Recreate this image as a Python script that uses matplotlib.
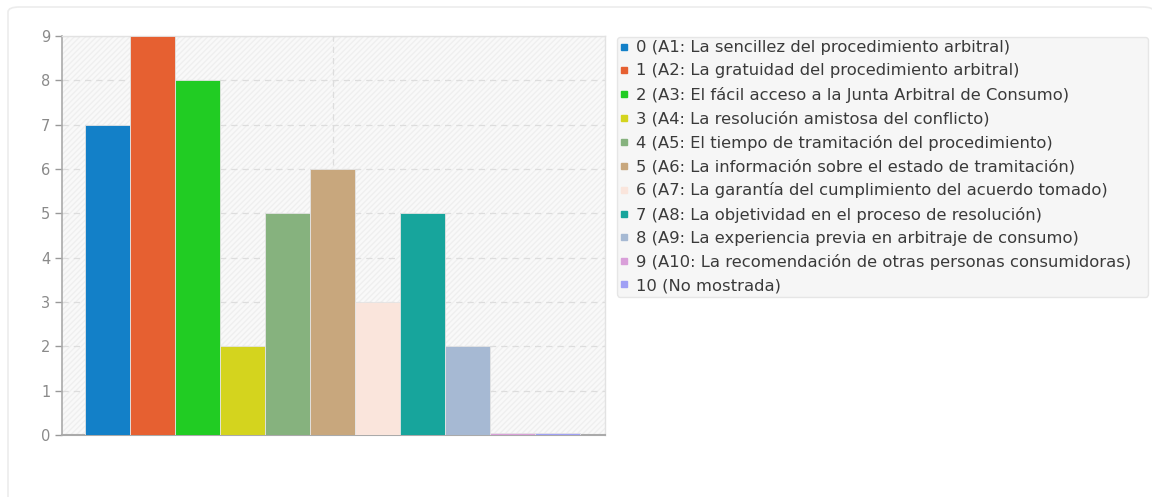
import numpy as np
import matplotlib
matplotlib.use("Agg")
import matplotlib.pyplot as plt
from matplotlib.patches import FancyBboxPatch, Rectangle
from matplotlib.lines import Line2D

# ── Data ──────────────────────────────────────────────────────────────────────
labels = [
    "0 (A1: La sencillez del procedimiento arbitral)",
    "1 (A2: La gratuidad del procedimiento arbitral)",
    "2 (A3: El fácil acceso a la Junta Arbitral de Consumo)",
    "3 (A4: La resolución amistosa del conflicto)",
    "4 (A5: El tiempo de tramitación del procedimiento)",
    "5 (A6: La información sobre el estado de tramitación)",
    "6 (A7: La garantía del cumplimiento del acuerdo tomado)",
    "7 (A8: La objetividad en el proceso de resolución)",
    "8 (A9: La experiencia previa en arbitraje de consumo)",
    "9 (A10: La recomendación de otras personas consumidoras)",
    "10 (No mostrada)",
]
values = [7, 9, 8, 2, 5, 6, 3, 5, 2, 0, 0]
colors = ["#1380C8", "#E66031", "#21CC23", "#D4D41E", "#86B27E", "#C8A77D",
          "#FAE5DC", "#17A59C", "#A6B9D3", "#D99FD9", "#A0A0F5"]
yticks = list(range(0, 10))

W, H = 1152, 497
fig = plt.figure(figsize=(W / 100, H / 100), dpi=100)
fig.patch.set_facecolor("white")

# outer card
card = FancyBboxPatch((8 / W, -0.05), (W - 6) / W, (H - 7) / H + 0.05,
                      boxstyle="round,pad=0,rounding_size=0.01",
                      transform=fig.transFigure, facecolor="white",
                      edgecolor="#ececec", linewidth=1.2, zorder=-5)
fig.patches.append(card)

ax = fig.add_axes([62 / W, 62 / H, 543 / W, 399 / H])
ax.set_facecolor("#f9f9f9")
ax.add_patch(Rectangle((0, 0), 1, 1, transform=ax.transAxes, facecolor="none",
                       edgecolor="#efefef", hatch="//////", linewidth=0, zorder=0))

x = np.arange(len(values))
shown = [max(v, 0.04) for v in values]
ax.bar(x, shown, width=1.0, color=colors, edgecolor="#e4e4e4", linewidth=0.6, zorder=3)

ax.set_xlim(-1.01, 11.05)
ax.set_ylim(0, 9)
ax.set_yticks(yticks)
ax.set_xticks([5])
ax.tick_params(axis="x", length=0, labelbottom=False)
ax.tick_params(axis="y", colors="#999999", labelcolor="#8a8a8a", labelsize=10.5,
               length=5, width=1)
ax.grid(True, axis="both", color="#dddddd", linestyle=(0, (5, 4)), linewidth=0.9, zorder=1)

for s in ["top", "right"]:
    ax.spines[s].set_color("#e2e2e2")
    ax.spines[s].set_linewidth(1)
ax.spines["left"].set_color("#aaaaaa")
ax.spines["left"].set_linewidth(1.2)
ax.spines["bottom"].set_color("#aaaaaa")
ax.spines["bottom"].set_linewidth(1.5)

handles = [Line2D([], [], marker="s", linestyle="none", markersize=4.5,
                  markerfacecolor=c, markeredgecolor=c) for c in colors]
leg = fig.legend(handles, labels, loc="upper left", mode="expand",
                 bbox_to_anchor=(617 / W, 1 - 297 / H, 531 / W, 260 / H),
                 borderaxespad=0, fontsize=11.8, labelspacing=0.5,
                 handlelength=0.5, handletextpad=0.45, borderpad=0.2,
                 frameon=True, fancybox=True, shadow=False, labelcolor="#3a3a3a")
frame = leg.get_frame()
frame.set_facecolor("#f6f6f6")
frame.set_edgecolor("#e6e6e6")
frame.set_alpha(1)
leg.set_zorder(5)

fig.savefig("out.png", dpi=100, facecolor="white")
